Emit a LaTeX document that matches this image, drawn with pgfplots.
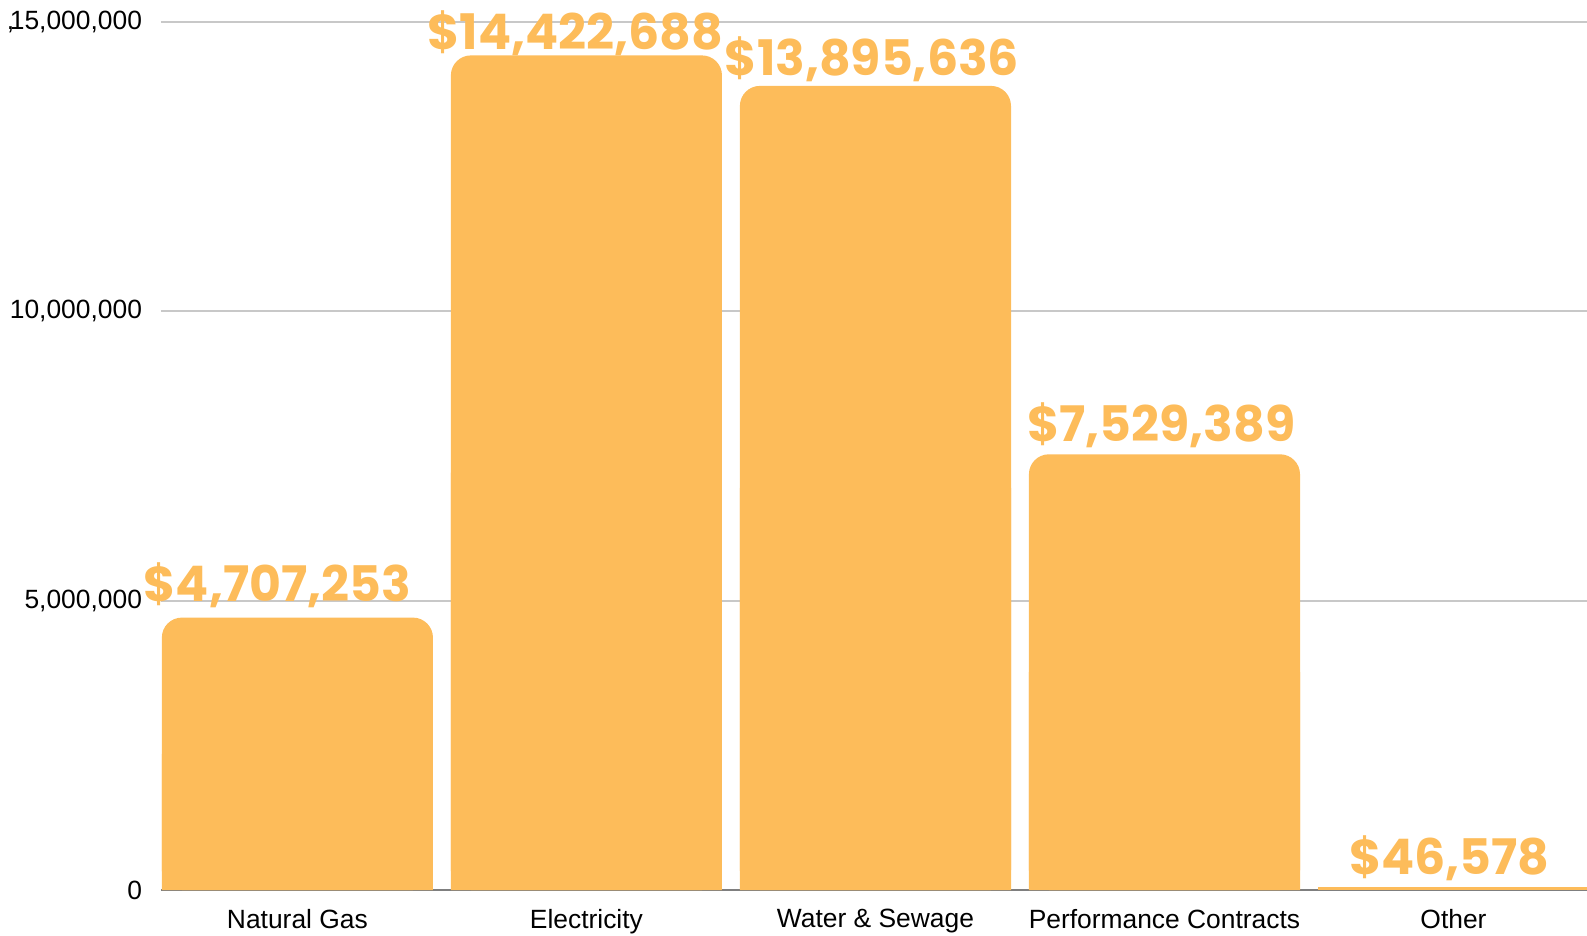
\documentclass[border=0pt]{standalone}
\usepackage{pgfplots}
\pgfplotsset{compat=1.18}
\usepackage{fontspec}
\setmainfont{Liberation Sans}
\newfontfamily\labelfont{Poppins}
\usetikzlibrary{calc}
\definecolor{barc}{HTML}{FDBC5A}
\definecolor{gridc}{HTML}{C8C8C8}
\definecolor{basec}{HTML}{7F7F7F}
\begin{document}
\begin{tikzpicture}
\begin{axis}[
  scale only axis, width=713bp, height=434bp,
  xmin=-0.472, xmax=4.462, ymin=0, ymax=15000000,
  xtick={0,1,2,3,4},
  xticklabels={Natural Gas, Electricity, Water \& Sewage, Performance Contracts, Other},
  ytick={0,5000000,10000000,15000000},
  yticklabels={0, {5,000,000}, {10,000,000}, {\rlap{\kern-1.5bp,}15,000,000}},
  scaled y ticks=false,
  axis x line*=bottom, axis y line*=left,
  x axis line style={-, basec, line width=1bp},
  y axis line style={draw=none},
  ymajorgrids, grid style={gridc, line width=1bp},
  major tick length=0,
  tick label style={font=\fontsize{13.2bp}{15bp}\selectfont, text=black},
  yticklabel style={xshift=-6bp},
  xticklabel style={yshift=-6bp},
  ybar=0pt, bar width=0.938,
  every node near coord/.append style={font=\labelfont\bfseries\fontsize{24.5bp}{28bp}\selectfont, text=barc, anchor=base, yshift=8bp},
]
\addplot[fill=barc, draw=none, bar shift=0pt] coordinates {(0,2353626) (1,7211344) (2,6947818) (3,3764694)};
\addplot[fill=barc, draw=none, bar shift=0pt, rounded corners=10bp,
  point meta=explicit symbolic, nodes near coords]
  coordinates {(0,4707253)[\$4,707,253\hspace*{20bp}] (1,14422688)[\raisebox{-5bp}{\$14,422,688}\hspace*{11bp}] (2,13895636)[\raisebox{-3bp}{\$13,895,636}\hspace*{3.5bp}] (3,7529389)[\raisebox{-1.5bp}{\$7,529,389}\hspace*{3bp}]};
\addplot[fill=barc, draw=none, bar shift=0pt,
  point meta=explicit symbolic, nodes near coords]
  coordinates {(4,46578)[\raisebox{-1.5bp}{\$46,578}\hspace*{4bp}]};
\end{axis}
\pgfresetboundingbox
\path ($(current axis.south west)+(-80.5bp,-23bp)$) rectangle ($(current axis.north east)+(0,11bp)$);
\end{tikzpicture}
\end{document}
